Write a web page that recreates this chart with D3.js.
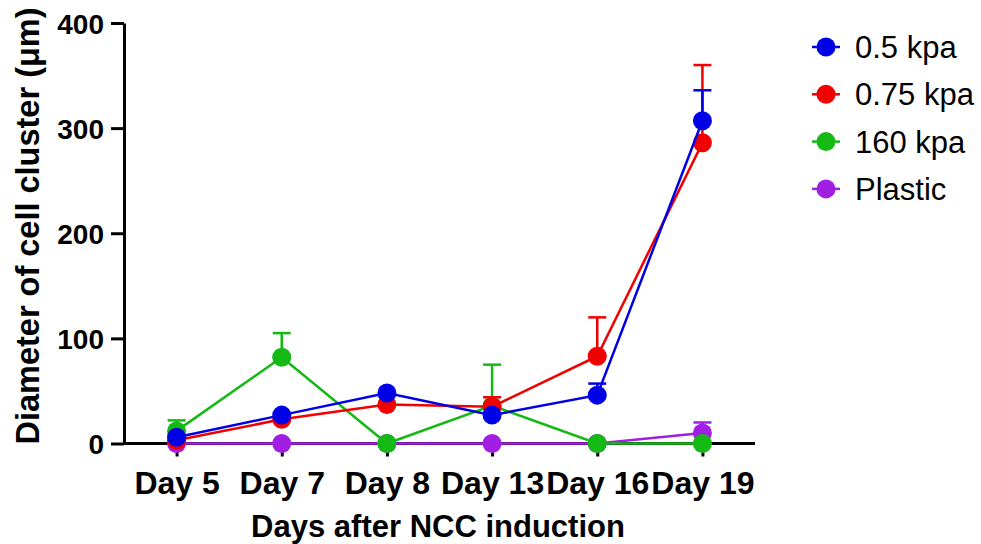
<!DOCTYPE html>
<meta charset="utf-8">
<style>
body { margin: 0; background: #fff; }
svg text { font-family: "Liberation Sans", Arial, sans-serif; fill: #000; }
.axis path, .axis line { stroke: #000; stroke-width: 3px; }
</style>
<svg id="chart" width="981" height="544"></svg>
<script src="https://cdn.jsdelivr.net/npm/d3@7"></script>
<script>
var days = ["Day 5", "Day 7", "Day 8", "Day 13", "Day 16", "Day 19"];
var groups = ["0.5 kpa", "0.75 kpa", "160 kpa", "Plastic"];
var colors = ["#0000e6", "#f20000", "#14b914", "#a11ee3"];
var yTicks = [0, 100, 200, 300, 400];

// means and upper error (SD)
var mean05 = [6, 27, 48, 27, 46, 307];
var err05 = [0, 0, 0, 0, 11, 29];
var mean075 = [3, 23, 37, 35, 83, 286];
var err075 = [0, 0, 0, 9, 37, 74];
var mean160 = [12, 82, 0, 36, 0, 0];
var err160 = [10, 23, 0, 39, 0, 0];
var meanPlastic = [0, 0, 0, 0, 0, 10];
var errPlastic = [0, 0, 0, 0, 0, 10];

var series = [
  {name: groups[0], color: colors[0], mean: mean05, err: err05},
  {name: groups[1], color: colors[1], mean: mean075, err: err075},
  {name: groups[2], color: colors[2], mean: mean160, err: err160},
  {name: groups[3], color: colors[3], mean: meanPlastic, err: errPlastic}
];

var svg = d3.select("#chart");

var x = d3.scalePoint().domain(days).range([124, 755]).padding(0.5);
var y = d3.scaleLinear().domain([0, 400]).range([443.5, 23]);

// axes
var yAxis = svg.append("g")
    .attr("class", "axis")
    .attr("transform", "translate(124,0)")
    .call(d3.axisLeft(y).tickValues(yTicks).tickSize(13).tickSizeOuter(0).tickPadding(7));
yAxis.selectAll("text")
    .style("font-size", "28px").style("font-weight", "bold")
    .attr("dy", "0.36em");

var xAxis = svg.append("g")
    .attr("class", "axis")
    .attr("transform", "translate(0,443.5)")
    .call(d3.axisBottom(x).tickSize(13).tickSizeOuter(0).tickPadding(9));
xAxis.select(".domain").attr("d", "M124,0H755");
xAxis.selectAll("text")
    .style("font-size", "32px").style("font-weight", "bold")
    .attr("dy", "0.9em");

svg.append("text")
    .attr("x", 438).attr("y", 537)
    .attr("text-anchor", "middle")
    .style("font-size", "31px").style("font-weight", "bold")
    .text("Days after NCC induction");

svg.append("text")
    .attr("transform", "translate(39,226) rotate(-90)")
    .attr("text-anchor", "middle")
    .style("font-size", "32.5px").style("font-weight", "bold")
    .text("Diameter of cell cluster (μm)");

// series: plastic drawn first, blue last (on top)
var drawOrder = [3, 2, 1, 0];
var line = d3.line()
    .x(function(d, i) { return x(days[i]); })
    .y(function(d) { return y(d); });

drawOrder.forEach(function(k) {
  var s = series[k];
  var g = svg.append("g");
  var pts = s.mean.map(function(m, i) { return {day: days[i], m: m, e: s.err[i]}; });

  var bars = g.selectAll(".err")
      .data(pts.filter(function(d) { return d.e > 0; }))
      .enter().append("g");
  bars.append("line")
      .attr("x1", function(d) { return x(d.day); })
      .attr("x2", function(d) { return x(d.day); })
      .attr("y1", function(d) { return y(d.m); })
      .attr("y2", function(d) { return y(d.m + d.e); })
      .attr("stroke", s.color).attr("stroke-width", 2.5);
  bars.append("line")
      .attr("x1", function(d) { return x(d.day) - 9; })
      .attr("x2", function(d) { return x(d.day) + 9; })
      .attr("y1", function(d) { return y(d.m + d.e); })
      .attr("y2", function(d) { return y(d.m + d.e); })
      .attr("stroke", s.color).attr("stroke-width", 2.5);

  g.append("path")
      .datum(s.mean)
      .attr("d", line)
      .attr("fill", "none")
      .attr("stroke", s.color)
      .attr("stroke-width", 2.5);

  g.selectAll("circle")
      .data(pts)
      .enter().append("circle")
      .attr("cx", function(d) { return x(d.day); })
      .attr("cy", function(d) { return y(d.m); })
      .attr("r", 9.5)
      .attr("fill", s.color);
});

// legend
var legend = svg.append("g").selectAll("g")
    .data(series)
    .enter().append("g")
    .attr("transform", function(d, i) { return "translate(826," + (47 + i * 47.3) + ")"; });
legend.append("line")
    .attr("x1", -14).attr("x2", 14)
    .attr("stroke", function(d) { return d.color; }).attr("stroke-width", 2.5);
legend.append("circle")
    .attr("r", 9.5)
    .attr("fill", function(d) { return d.color; });
legend.append("text")
    .attr("x", 29).attr("y", 11)
    .style("font-size", "31px")
    .text(function(d) { return d.name; });
</script>
